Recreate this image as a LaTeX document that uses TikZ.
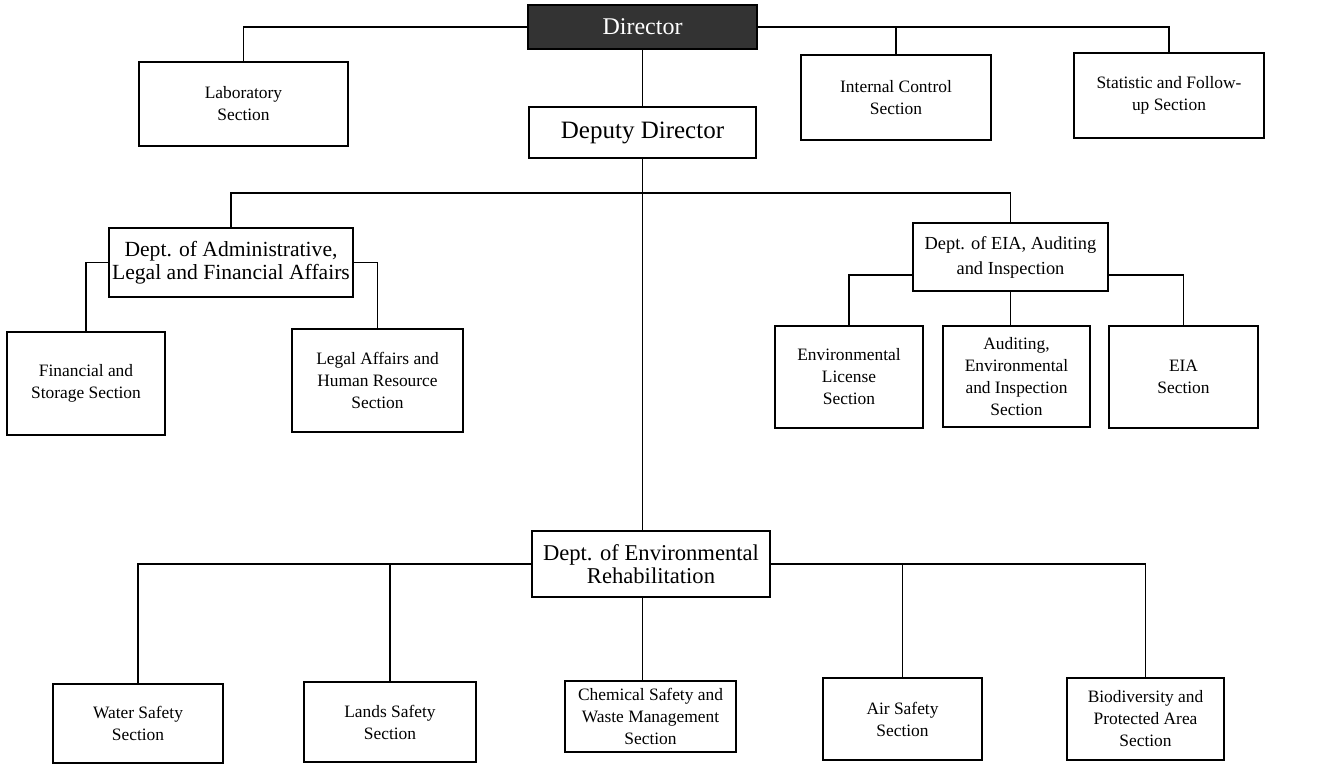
\documentclass[tikz,border=0pt]{standalone}
\usepackage{fontspec}
\setmainfont{Liberation Serif}
\usetikzlibrary{positioning}
\tikzset{
        x=0.5pt, y=-0.5pt, % one unit is one pixel of the chart
        box/.style={draw, line width=0.8pt, fill=white, align=center, inner sep=1pt}, % every box of the chart
        sect/.style={box, font=\fontsize{8.7}{11}\selectfont}, % the small section boxes
        dept/.style={box, font=\fontsize{10.8}{11.5}\selectfont}, % the department boxes
        link/.style={line width=0.8pt}, % the connecting lines
    }

\begin{document}
\begin{tikzpicture}
    \useasboundingbox (0,0) rectangle (1342,765);
    % top level
    \node[box, fill=black!80, text=white, font=\fontsize{12}{14}\selectfont, minimum width=114.5pt, minimum height=22pt] (dir) at (642.5,27) {Director};
    \node[sect, minimum width=104.5pt, minimum height=42pt] (lab) at (243.5,104) {Laboratory\\Section};
    \node[sect, minimum width=95pt, minimum height=42.5pt] (ictrl) at (896,97.5) {Internal Control\\Section};
    \node[sect, minimum width=95pt, minimum height=42.5pt] (stat) at (1169,95.5) {Statistic and Follow-\\up Section};
    \node[box, font=\fontsize{12.5}{14}\selectfont, minimum width=113.5pt, minimum height=25.5pt] (dep) at (642.5,132.5) {Deputy Director};
    \coordinate[below=17pt of dep.south] (split);
    % administrative, legal and financial affairs
    \node[dept, minimum width=122pt, minimum height=34.5pt] (admin) at (231,262.5) {Dept. of Administrative,\\Legal and Financial Affairs};
    \node[sect, minimum width=79pt, minimum height=51.5pt] (fin) at (86,383.5) {Financial and\\Storage Section};
    \node[sect, minimum width=85.5pt, minimum height=51.5pt] (legal) at (377.5,380.5) {Legal Affairs and\\Human Resource\\Section};
    % EIA, auditing and inspection
    \node[box, font=\fontsize{9.2}{12.5}\selectfont, minimum width=97.5pt, minimum height=34pt] (eia) at (1010.5,257) {Dept. of EIA, Auditing\\and Inspection};
    \node[sect, minimum width=74pt, minimum height=51pt] (lic) at (849,377) {Environmental\\License\\Section};
    \node[sect, minimum width=73.5pt, minimum height=50.5pt] (aud) at (1016.5,376.5) {Auditing,\\Environmental\\and Inspection\\Section};
    \node[sect, minimum width=74.5pt, minimum height=51pt] (eiasec) at (1183.5,377) {EIA\\Section};
    % environmental rehabilitation
    \node[dept, font=\fontsize{11.3}{11.5}\selectfont, minimum width=119pt, minimum height=33pt] (rehab) at (651,564) {Dept. of Environmental\\Rehabilitation};
    \node[sect, minimum width=85pt, minimum height=39.5pt] (water) at (138,723.5) {Water Safety\\Section};
    \node[sect, minimum width=86pt, minimum height=40pt] (lands) at (390,722) {Lands Safety\\Section};
    \node[sect, minimum width=85.5pt, minimum height=35.5pt] (chem) at (650.5,716.5) {Chemical Safety and\\Waste Management\\Section};
    \node[sect, minimum width=79.5pt, minimum height=41pt] (air) at (902.5,719) {Air Safety\\Section};
    \node[sect, minimum width=78.5pt, minimum height=41pt] (bio) at (1145.5,719) {Biodiversity and\\Protected Area\\Section};
    \draw[link] (dir.west) -| (lab.north)
          (dir.east) -| (ictrl.north)
          (dir.east) -| (stat.north)
          (dir.south) -- (dep.north)
          (dep.south) -- (dep.south |- rehab.north)
          (admin.north) |- (split) -| (eia.north)
          (admin.west) -| (fin.north)
          (admin.east) -| (legal.north)
          ([yshift=-9pt]eia.west) -| (lic.north)
          ([yshift=-9pt]eia.east) -| (eiasec.north)
          (eia.south) -- (eia.south |- aud.north)
          (rehab.west) -| (water.north)
          (rehab.west) -| (lands.north)
          (rehab.east) -| (air.north)
          (rehab.east) -| (bio.north)
          (dep.south |- rehab.south) -- (dep.south |- chem.north);
\end{tikzpicture}
\end{document}
